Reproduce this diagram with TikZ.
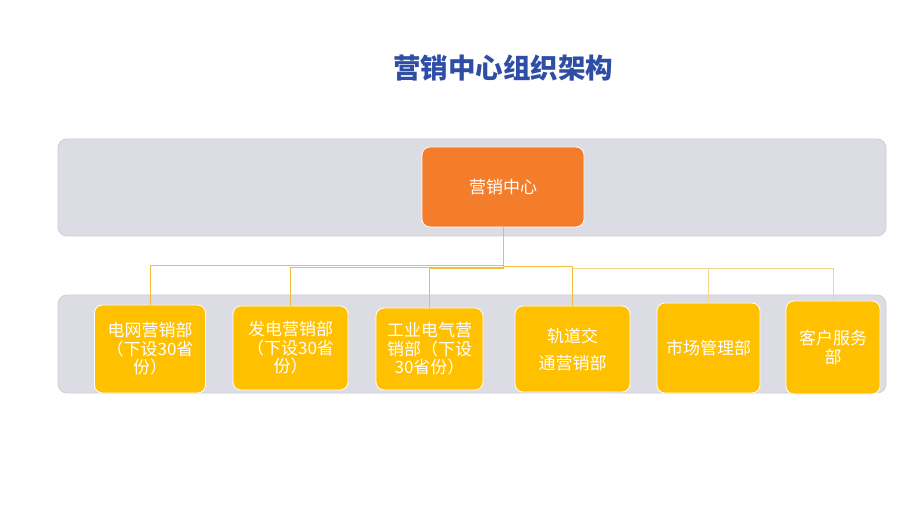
\documentclass[tikz,border=0pt]{standalone}
\usepackage{fontspec}
\newfontfamily\cjk{Noto Sans CJK SC}
\definecolor{band}{HTML}{DCDCE5}
\definecolor{bandline}{HTML}{CFCFD8}
\definecolor{orangebox}{HTML}{F47D2C}
\definecolor{goldbox}{HTML}{FFC000}
\definecolor{linkA}{HTML}{F3BC3A}
\definecolor{linkB}{HTML}{F6D38E}
\definecolor{titleblue}{HTML}{2E4EA6}
\tikzset{
  bandbox/.style={draw=bandline, line width=0.8pt, fill=band, rounded corners=9pt},
  parentbox/.style={draw=white, line width=0.8pt, fill=orangebox, rounded corners=8pt, text=white, font=\cjk\fontsize{17}{19}\selectfont, align=center, inner sep=0pt},
  childbox/.style={draw=white, line width=0.8pt, fill=goldbox, rounded corners=8pt, text=white, font=\cjk\fontsize{17}{18.5}\selectfont, align=center, inner sep=0pt},
  linkA/.style={draw=linkA, line width=0.9pt},
  linkB/.style={draw=linkB, line width=0.9pt}
}
\begin{document}
\begin{tikzpicture}[x=1pt,y=-1pt]
\useasboundingbox (0,0) rectangle (920,518);
\fill[white] (0,0) rectangle (920,518);
% title
\node[font=\cjk\bfseries\fontsize{27.5}{30}\selectfont, text=titleblue] (title) at (503,68) {营销中心组织架构};
% bands
\draw[bandbox] (58,139) rectangle (886,236);
\draw[bandbox] (58,295) rectangle (886,393);
% parent
\node[parentbox, minimum width=162pt, minimum height=80pt] (p) at (503,187) {营销中心};
% children
\node[childbox, minimum width=111pt, minimum height=88pt] (c1) at (150,349) {电网营销部\\（下设30省\\份）};
\node[childbox, minimum width=115pt, minimum height=84pt] (c2) at (290.5,348) {发电营销部\\（下设30省\\份）};
\node[childbox, minimum width=107pt, minimum height=82pt] (c3) at (429.5,349) {工业电气营\\销部（下设\\30省份）};
\node[childbox, minimum width=115pt, minimum height=86pt, font=\cjk\fontsize{17}{27}\selectfont] (c4) at (572.5,349) {轨道交\\通营销部};
\node[childbox, minimum width=103pt, minimum height=90pt] (c5) at (708.5,348) {\raisebox{-4pt}{市场管理部}};
\node[childbox, minimum width=94pt, minimum height=93pt] (c6) at (833,347.5) {客户服务\\部};
% connectors
\coordinate (j1) at (503,265.5);
\coordinate (j2) at (503,267);
\coordinate (j3) at (503,268.5);
\coordinate (j4) at (503,266.5);
\coordinate (j5) at (573,268.5);
\draw[linkA] (p.south) -- (j1) -| (c1.north);
\draw[linkA] (p.south) -- (j2) -| (c2.north);
\draw[linkA] (p.south) -- (j3) -| (c3.north);
\draw[linkA] (p.south) -- (j4) -| (c4.north);
\draw[linkB] (j5) -| (c5.north);
\draw[linkB] (j5) -| (c6.north);
\end{tikzpicture}
\end{document}
